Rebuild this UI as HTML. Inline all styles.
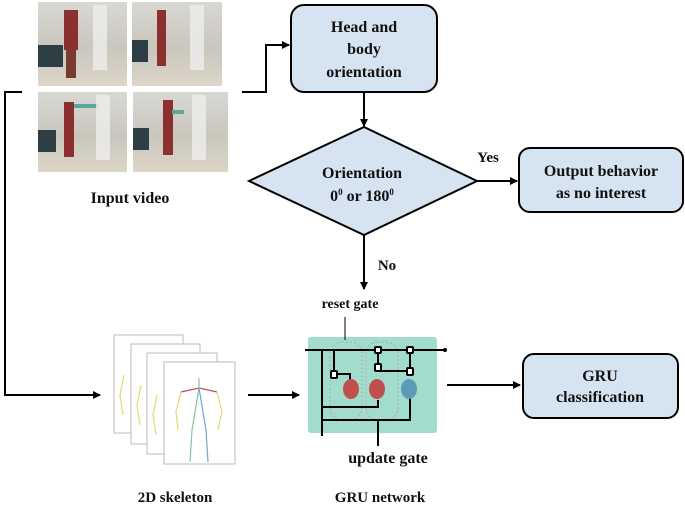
<!DOCTYPE html>
<html><head><style>
html,body{margin:0;padding:0;background:#fff;}
svg{display:block;}
text{font-family:"Liberation Serif",serif;font-weight:bold;fill:#111;}
</style></head><body>
<svg width="685" height="506" viewBox="0 0 685 506" xmlns="http://www.w3.org/2000/svg">
<defs>
<marker id="a" markerWidth="8" markerHeight="8" refX="7" refY="4" orient="auto" markerUnits="userSpaceOnUse"><path d="M0,0 L8,4 L0,8 z" fill="#000"/></marker>
<linearGradient id="img" x1="0" y1="0" x2="0" y2="1"><stop offset="0" stop-color="#d8d8d4"/><stop offset="0.55" stop-color="#c9c6bd"/><stop offset="1" stop-color="#ddd6c8"/></linearGradient>
</defs>
<g>
<rect x="38" y="2" width="89" height="84" fill="url(#img)"/>
<rect x="132" y="2" width="90" height="84" fill="url(#img)"/>
<rect x="38" y="92" width="89" height="80" fill="url(#img)"/>
<rect x="133" y="92" width="95" height="80" fill="url(#img)"/>
<rect x="38" y="45" width="25" height="22" fill="#2d3e45"/>
<rect x="132" y="40" width="16" height="22" fill="#2d3e45"/>
<rect x="38" y="130" width="18" height="22" fill="#2d3e45"/>
<rect x="133" y="128" width="16" height="22" fill="#2d3e45"/>
<rect x="64" y="10" width="14" height="40" fill="#8b2f2f"/>
<rect x="66" y="50" width="10" height="28" fill="#7a3a30"/>
<rect x="157" y="10" width="9" height="56" fill="#8b2f2f"/>
<rect x="64" y="102" width="10" height="55" fill="#8b2f2f"/>
<rect x="74" y="104" width="24" height="4" fill="#5aa89a"/>
<rect x="163" y="100" width="10" height="55" fill="#8b2f2f"/>
<rect x="172" y="110" width="12" height="4" fill="#5aa89a"/>
<rect x="93" y="5" width="14" height="65" fill="#eeeeec" opacity="0.8"/>
<rect x="190" y="5" width="14" height="65" fill="#eeeeec" opacity="0.8"/>
<rect x="96" y="95" width="14" height="65" fill="#eeeeec" opacity="0.8"/>
<rect x="192" y="95" width="14" height="65" fill="#eeeeec" opacity="0.8"/>
</g>
<text x="130" y="203" font-size="16" text-anchor="middle">Input video</text>

<polyline points="242,92 266,92 266,45 289,45" fill="none" stroke="#000" stroke-width="2" marker-end="url(#a)"/>
<polyline points="22,92 5,92 5,395 100,395" fill="none" stroke="#000" stroke-width="2" marker-end="url(#a)"/>
<line x1="364" y1="92" x2="364" y2="126" stroke="#000" stroke-width="2" marker-end="url(#a)"/>
<line x1="477" y1="181" x2="517" y2="181" stroke="#000" stroke-width="2" marker-end="url(#a)"/>
<line x1="364" y1="235" x2="364" y2="289" stroke="#000" stroke-width="2" marker-end="url(#a)"/>
<line x1="248" y1="395" x2="299" y2="395" stroke="#000" stroke-width="2" marker-end="url(#a)"/>
<line x1="447" y1="385" x2="520" y2="385" stroke="#000" stroke-width="2" marker-end="url(#a)"/>

<rect x="291" y="5" width="146" height="87" rx="13" fill="#d6e4f2" stroke="#000" stroke-width="2"/>
<text x="364" y="32" font-size="16" text-anchor="middle">Head and</text>
<text x="364" y="54" font-size="16" text-anchor="middle">body</text>
<text x="364" y="77" font-size="16" text-anchor="middle">orientation</text>

<polygon points="364,127 477,181 364,235 249,181" fill="#d6e4f2" stroke="#000" stroke-width="2"/>
<text x="362" y="178" font-size="16" text-anchor="middle">Orientation</text>
<text x="362" y="201" font-size="16" text-anchor="middle">0<tspan font-size="9" dy="-6">0</tspan><tspan dy="6"> or 180</tspan><tspan font-size="9" dy="-6">0</tspan></text>
<text x="488" y="162" font-size="15" text-anchor="middle">Yes</text>
<text x="387" y="270" font-size="15" text-anchor="middle">No</text>

<rect x="519" y="148" width="164" height="64" rx="11" fill="#d6e4f2" stroke="#000" stroke-width="2"/>
<text x="601" y="176" font-size="16" text-anchor="middle">Output behavior</text>
<text x="601" y="198" font-size="16" text-anchor="middle">as no interest</text>

<g stroke="#bbb" stroke-width="1" fill="#fff">
<rect x="114" y="335" width="69" height="98"/>
<rect x="131" y="344" width="69" height="100"/>
<rect x="147" y="353" width="70" height="101"/>
<rect x="164" y="362" width="71" height="102"/>
</g>
<g fill="none" stroke-width="1.2">
<polyline points="181,392 199,388 217,392" stroke="#c0504d"/>
<polyline points="181,392 176,412 178,430" stroke="#e6d870"/>
<polyline points="217,392 222,412 218,430" stroke="#e6d870"/>
<polyline points="199,388 192,430 190,462" stroke="#7fc99a"/>
<polyline points="199,388 206,430 208,462" stroke="#6aa8d0"/>
<polyline points="124,375 120,395 123,415" stroke="#e6d870"/>
<polyline points="141,385 137,405 140,425" stroke="#e6d870"/>
<polyline points="157,395 153,415 156,435" stroke="#e6d870"/>
<line x1="199" y1="378" x2="199" y2="388" stroke="#7fc99a"/>
</g>
<text x="175" y="502" font-size="15" text-anchor="middle">2D skeleton</text>

<rect x="308" y="337" width="129" height="96" rx="3" fill="#a2dccd"/>
<rect x="330" y="342" width="32" height="78" rx="12" fill="none" stroke="#aaa" stroke-dasharray="2,2"/>
<rect x="366" y="342" width="32" height="78" rx="12" fill="none" stroke="#aaa" stroke-dasharray="2,2"/>
<line x1="345" y1="317" x2="345" y2="340" stroke="#000" stroke-width="1"/>
<g stroke="#000" stroke-width="2" fill="none">
<line x1="305" y1="350" x2="445" y2="350"/>
<line x1="322" y1="350" x2="322" y2="436"/>
<polyline points="322,420 410,420 410,395"/>
<polyline points="322,407 378,407 378,400"/>
<polyline points="334,350 334,375"/>
<line x1="378" y1="350" x2="378" y2="371"/>
<line x1="378" y1="371" x2="410" y2="371"/>
<line x1="410" y1="350" x2="410" y2="372"/>
<polyline points="350,388 350,374 336,374"/>
<line x1="378" y1="420" x2="378" y2="446"/>
</g>
<circle cx="445" cy="350" r="2" fill="#000"/>
<g fill="#fff" stroke="#000" stroke-width="2">
<rect x="375" y="347" width="6" height="6" rx="1"/>
<rect x="407" y="347" width="6" height="6" rx="1"/>
<rect x="375" y="364" width="6" height="7" rx="1"/>
<rect x="407" y="368" width="6" height="7" rx="1"/>
<rect x="331" y="371" width="6" height="7" rx="1"/>
</g>
<ellipse cx="351" cy="389" rx="8" ry="10" fill="#c0504d"/>
<ellipse cx="377" cy="389" rx="8" ry="10" fill="#c0504d"/>
<ellipse cx="409" cy="389" rx="8" ry="10" fill="#5b9bb5"/>
<text x="350" y="308" font-size="14" text-anchor="middle">reset gate</text>
<text x="388" y="463" font-size="16" text-anchor="middle">update gate</text>
<text x="380" y="502" font-size="15" text-anchor="middle">GRU network</text>

<rect x="523" y="354" width="155" height="64" rx="11" fill="#d6e4f2" stroke="#000" stroke-width="2"/>
<text x="600" y="381" font-size="16" text-anchor="middle">GRU</text>
<text x="600" y="402" font-size="16" text-anchor="middle">classification</text>
</svg>
</body></html>
